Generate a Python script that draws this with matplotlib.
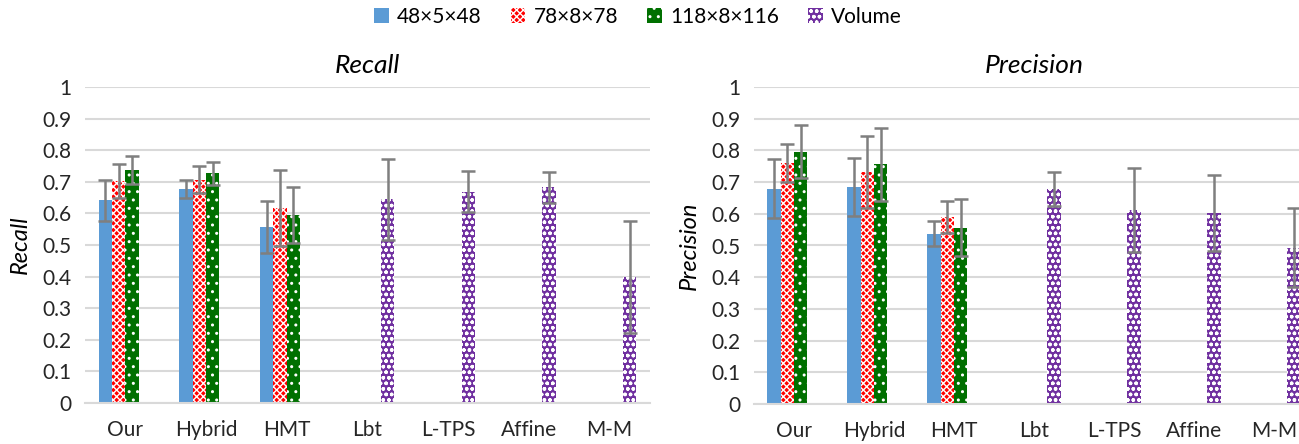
import matplotlib.pyplot as plt
import numpy as np

categories = ['Our', 'Hybrid', 'HMT', 'Lbt', 'L-TPS', 'Affine', 'M-M']
series_labels = ['48×5×48', '78×8×78', '118×8×116', 'Volume']

recall_48 = [0.641, 0.678, 0.556]
recall_48_err = [0.064, 0.028, 0.082]
recall_78 = [0.702, 0.707, 0.617]
recall_78_err = [0.053, 0.044, 0.120]
recall_118 = [0.737, 0.727, 0.596]
recall_118_err = [0.045, 0.036, 0.089]
recall_vol = [0.644, 0.669, 0.682, 0.400]
recall_vol_err = [0.127, 0.065, 0.048, 0.177]

precision_48 = [0.679, 0.685, 0.537]
precision_48_err = [0.093, 0.091, 0.040]
precision_78 = [0.761, 0.732, 0.591]
precision_78_err = [0.060, 0.114, 0.050]
precision_118 = [0.796, 0.756, 0.556]
precision_118_err = [0.083, 0.115, 0.090]
precision_vol = [0.679, 0.612, 0.603, 0.493]
precision_vol_err = [0.054, 0.131, 0.120, 0.124]

plt.rcParams['font.family'] = ['Lato', 'DejaVu Sans']
plt.rcParams['hatch.linewidth'] = 1.0

styles = [
    dict(color='#5b9bd5', hatch=None),
    dict(color='#ff0000', hatch='xxxxx'),
    dict(color='#007000', hatch='..'),
    dict(color='#7030a0', hatch='ooo'),
]


def draw_panel(ax, groups, title):
    w = 0.166
    handles = []
    for i, (vals, errs, start) in enumerate(groups):
        x = np.arange(start, start + len(vals)) + (i - 1.5) * w
        st = styles[i]
        b = ax.bar(x, vals, w, color=st['color'], hatch=st['hatch'],
                   edgecolor='white' if st['hatch'] else st['color'],
                   linewidth=0, zorder=2, label=series_labels[i])
        ax.errorbar(x, vals, yerr=errs, fmt='none', ecolor='#7f7f7f',
                    elinewidth=1.8, capsize=5, capthick=1.8, zorder=3)
        handles.append(b)

    ax.set_xlim(-0.5, len(categories) - 0.5)
    ax.set_ylim(0, 1)
    ax.set_yticks(np.arange(0, 1.01, 0.1))
    ax.set_yticklabels(['0'] + [f'{v:.1f}' for v in np.arange(0.1, 0.95, 0.1)] + ['1'])
    ax.set_xticks(range(len(categories)))
    ax.set_xticklabels(categories)
    ax.tick_params(axis='both', length=0, labelsize=15)
    ax.tick_params(axis='x', pad=12)
    ax.tick_params(axis='y', pad=10)
    for lab in ax.get_xticklabels() + ax.get_yticklabels():
        lab.set_color('#262626')
    ax.grid(axis='y', color='#d9d9d9', linewidth=1.5, zorder=0)
    ax.set_axisbelow(True)
    for s in ['top', 'right', 'left']:
        ax.spines[s].set_visible(False)
    ax.spines['bottom'].set_color('#d9d9d9')
    ax.spines['bottom'].set_linewidth(1.5)
    ax.set_title(title, fontsize=19, style='italic', pad=10)
    ax.set_ylabel(title, fontsize=17, style='italic', labelpad=8)
    return handles


fig = plt.figure(figsize=(12.99, 4.44), dpi=100)
ax1 = fig.add_axes([85 / 1299, 41 / 444, 565 / 1299, 316 / 444])
ax2 = fig.add_axes([754 / 1299, 40 / 444, 560 / 1299, 317 / 444])

handles = draw_panel(ax1, [(recall_48, recall_48_err, 0),
                           (recall_78, recall_78_err, 0),
                           (recall_118, recall_118_err, 0),
                           (recall_vol, recall_vol_err, 3)], 'Recall')
draw_panel(ax2, [(precision_48, precision_48_err, 0),
                 (precision_78, precision_78_err, 0),
                 (precision_118, precision_118_err, 0),
                 (precision_vol, precision_vol_err, 3)], 'Precision')

fig.legend(handles, series_labels, loc='center', bbox_to_anchor=(638 / 1299, 1 - 17 / 444),
           ncol=4, frameon=False, fontsize=15, handlelength=0.7, handleheight=0.7,
           handletextpad=0.4, columnspacing=1.4)

fig.savefig('out.png', dpi=100)
